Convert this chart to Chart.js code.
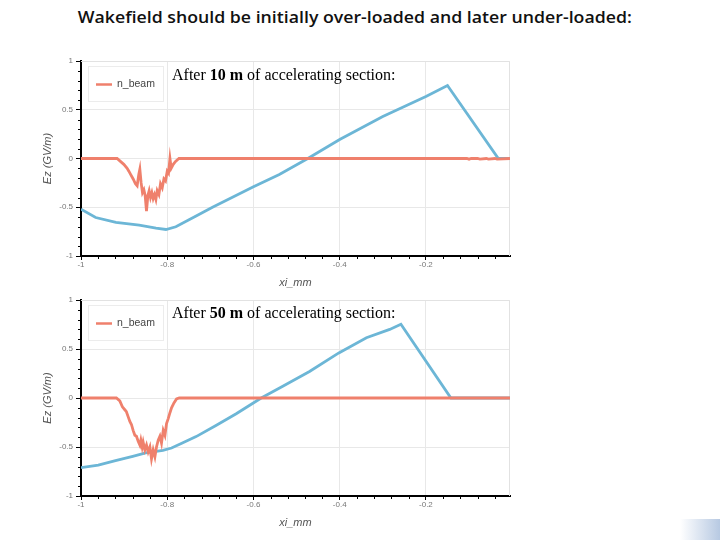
<!DOCTYPE html>
<html><head><meta charset="utf-8">
<script src="https://cdn.jsdelivr.net/npm/chart.js@4.4.0/dist/chart.umd.min.js"></script>
<style>
html,body{margin:0;padding:0;background:#fff;width:720px;height:540px;overflow:hidden;position:relative;font-family:"Liberation Sans",Arial,sans-serif}
canvas{position:absolute}
#c1{left:0;top:40px}
#c2{left:0;top:280px}
#title{position:absolute;top:5px;left:0;width:710px;text-align:center;white-space:nowrap;font-family:"Open Sans",sans-serif;font-weight:600;font-size:17px;color:#111}
#title span{display:inline-block;transform-origin:50% 50%}
.note{position:absolute;left:172px;font-family:"Liberation Serif","Times New Roman",serif;font-size:16px;line-height:16px;white-space:nowrap;color:#000}
#deco{position:absolute;left:680px;top:519px;width:40px;height:21px;background:linear-gradient(to right,#fff,#b7c9e2)}
</style></head>
<body>
<div id="title"><span id="tspan">Wakefield should be initially over-loaded and later under-loaded:</span></div>
<canvas id="c1" width="530" height="250"></canvas>
<canvas id="c2" width="530" height="250"></canvas>
<div class="note" style="top:67px">After <b>10 m</b> of accelerating section:</div>
<div class="note" style="top:305px">After <b>50 m</b> of accelerating section:</div>
<div id="deco"></div>
<script>
// ---- data ----
const xTicks = [-1, -0.8, -0.6, -0.4, -0.2];
const yTicks = [-1, -0.5, 0, 0.5, 1];
const xMinorTicks = [-0.96,-0.92,-0.88,-0.84,-0.76,-0.72,-0.68,-0.64,-0.56,-0.52,-0.48,-0.44,-0.36,-0.32,-0.28,-0.24,-0.16,-0.12,-0.08,-0.04];
const yMinorTicks = [-0.9,-0.8,-0.7,-0.6,-0.4,-0.3,-0.2,-0.1,0.1,0.2,0.3,0.4,0.6,0.7,0.8,0.9];

const beam10X = [-1,-0.9163,-0.9086,-0.9007,-0.893,-0.889,-0.8853,-0.879,-0.8737,-0.8698,-0.8658,-0.8635,-0.8605,-0.8574,-0.8542,-0.8512,-0.8481,-0.8449,-0.8419,-0.8388,-0.8356,-0.8326,-0.8295,-0.8263,-0.8233,-0.8193,-0.8156,-0.8116,-0.8077,-0.804,-0.8,-0.797,-0.7937,-0.7907,-0.786,-0.7807,-0.7728,-0.105,-0.1,-0.095,-0.08,-0.075,-0.06,-0.055,-0.04,-0.035,-0.005];
const beam10Y = [0,0,-0.03,-0.06,-0.10,-0.13,-0.16,-0.21,-0.26,-0.28,-0.16,-0.11,-0.25,-0.35,-0.32,-0.38,-0.54,-0.38,-0.33,-0.40,-0.35,-0.41,-0.37,-0.42,-0.33,-0.37,-0.26,-0.30,-0.21,-0.23,-0.13,-0.15,0,-0.10,-0.06,-0.03,0,0,-0.007,0,0,-0.006,0,-0.007,0,-0.006,0];
const ez10X = [-1,-0.966,-0.919,-0.865,-0.826,-0.803,-0.78,-0.733,-0.695,-0.6,-0.54,-0.474,-0.4,-0.3,-0.2,-0.15,-0.032,-0.005];
const ez10Y = [-0.52,-0.605,-0.656,-0.684,-0.714,-0.728,-0.70,-0.59,-0.50,-0.29,-0.163,0,0.194,0.43,0.636,0.748,0,0];

const beam50X = [-1,-0.9179,-0.91,-0.904,-0.8984,-0.8947,-0.8907,-0.8867,-0.883,-0.8791,-0.8751,-0.8714,-0.8674,-0.8635,-0.8612,-0.8581,-0.8558,-0.8519,-0.8481,-0.8442,-0.8402,-0.8365,-0.8326,-0.8286,-0.8249,-0.8209,-0.817,-0.8133,-0.8093,-0.8053,-0.8016,-0.7977,-0.7937,-0.79,-0.7844,-0.7784,-0.7721,-0.005];
const beam50Y = [0,0,-0.03,-0.09,-0.12,-0.14,-0.19,-0.24,-0.27,-0.33,-0.38,-0.39,-0.44,-0.48,-0.43,-0.50,-0.45,-0.53,-0.48,-0.55,-0.50,-0.62,-0.53,-0.60,-0.50,-0.43,-0.39,-0.46,-0.33,-0.38,-0.26,-0.21,-0.15,-0.10,-0.05,-0.01,0,0];
const ez50X = [-1,-0.96,-0.92,-0.88,-0.85,-0.81,-0.79,-0.765,-0.733,-0.687,-0.64,-0.582,-0.532,-0.47,-0.402,-0.338,-0.284,-0.258,-0.142,-0.005];
const ez50Y = [-0.71,-0.685,-0.64,-0.595,-0.56,-0.535,-0.51,-0.46,-0.394,-0.28,-0.16,0,0.12,0.27,0.46,0.615,0.70,0.752,0,0];

const seriesNames = ['n_beam', 'Ez'];
const RED = '#ef806c', BLUE = '#6cb6d6';

// ---- title fit ----
(function(){
  const s = document.getElementById('tspan');
  const w = s.getBoundingClientRect().width;
  s.style.transform = 'scaleX(' + (554 / w) + ')';
})();

const toPts = (xs, ys) => xs.map((x, i) => ({x: x, y: ys[i]}));

const decor = {
  id: 'decor',
  beforeDatasetsDraw(chart) {
    const {ctx, chartArea: a} = chart;
    ctx.save();
    ctx.strokeStyle = '#e2e2e2'; ctx.lineWidth = 1;
    ctx.beginPath();
    ctx.moveTo(a.left, a.top + 0.5); ctx.lineTo(a.right - 0.5, a.top + 0.5); ctx.lineTo(a.right - 0.5, a.bottom);
    ctx.stroke();
    ctx.restore();
  },
  afterDatasetsDraw(chart) {
    const {ctx, chartArea: a} = chart;
    const ds = chart.data.datasets[0];
    ctx.save();
    ctx.fillStyle = '#fff'; ctx.strokeStyle = '#ececec'; ctx.lineWidth = 1;
    ctx.fillRect(a.left + 7, a.top + 5, 75, 35);
    ctx.strokeRect(a.left + 7.5, a.top + 5.5, 75, 35);
    ctx.strokeStyle = ds.borderColor; ctx.lineWidth = 2.5;
    ctx.beginPath(); ctx.moveTo(a.left + 15, a.top + 23.5); ctx.lineTo(a.left + 31, a.top + 23.5); ctx.stroke();
    ctx.fillStyle = '#444'; ctx.font = '10.5px "Liberation Sans", Arial, sans-serif';
    ctx.textBaseline = 'middle'; ctx.textAlign = 'left';
    ctx.fillText(ds.label, a.left + 36, a.top + 23.5);
    ctx.restore();
  },
  afterDraw(chart) {
    const {ctx, chartArea: a, scales: {x, y}} = chart;
    ctx.save();
    ctx.strokeStyle = '#000'; ctx.lineWidth = 1;
    ctx.beginPath();
    yMinorTicks.forEach(v => { const py = Math.round(y.getPixelForValue(v)) + 0.5; ctx.moveTo(a.left - 3, py); ctx.lineTo(a.left, py); });
    xMinorTicks.forEach(v => { const px = Math.round(x.getPixelForValue(v)) + 0.5; ctx.moveTo(px, a.bottom); ctx.lineTo(px, a.bottom + 3); });
    ctx.stroke();
    ctx.fillStyle = '#555';
    ctx.font = 'italic 11px "Liberation Sans", Arial, sans-serif';
    ctx.textAlign = 'center'; ctx.textBaseline = 'middle';
    ctx.fillText('xi_mm', (a.left + a.right) / 2, a.bottom + 27);
    ctx.translate(a.left - 33, (a.top + a.bottom) / 2);
    ctx.rotate(-Math.PI / 2);
    ctx.fillText('Ez (GV/m)', 0, 0);
    ctx.restore();
  }
};

function makeChart(id, bx, by, ex, ey, padTop) {
  return new Chart(document.getElementById(id), {
    type: 'line',
    data: {
      datasets: [
        {label: seriesNames[0], data: toPts(bx, by), borderColor: RED, borderWidth: 2.8, pointRadius: 0, tension: 0, fill: false},
        {label: seriesNames[1], data: toPts(ex, ey), borderColor: BLUE, borderWidth: 2.8, pointRadius: 0, tension: 0, fill: false}
      ]
    },
    options: {
      responsive: false, animation: false, devicePixelRatio: 1,
      layout: {padding: {left: 0, right: 20, top: padTop, bottom: 0}},
      plugins: {legend: {display: false}, tooltip: {enabled: false}, title: {display: false}},
      scales: {
        x: {
          type: 'linear', min: -1, max: -0.005,
          afterBuildTicks(s) { s.ticks = xTicks.map(v => ({value: v})); },
          afterFit(s) { s.height = 34; },
          grid: {color: '#e8e8e8', lineWidth: 1, tickColor: '#000', tickLength: 4, drawTicks: true},
          border: {color: '#000', width: 2},
          ticks: {color: '#777', font: {size: 8, family: '"Liberation Sans", Arial, sans-serif'}, padding: 0, maxRotation: 0, autoSkip: false, callback: v => String(v)}
        },
        y: {
          type: 'linear', min: -1, max: 1,
          afterBuildTicks(s) { s.ticks = yTicks.map(v => ({value: v})); },
          afterFit(s) { s.width = 81; },
          grid: {color: '#e8e8e8', lineWidth: 1, tickColor: '#000', tickLength: 5, drawTicks: true},
          border: {color: '#000', width: 2},
          ticks: {color: '#777', font: {size: 8, family: '"Liberation Sans", Arial, sans-serif'}, padding: 3, autoSkip: false, callback: v => String(v)}
        }
      }
    },
    plugins: [decor]
  });
}

makeChart('c1', beam10X, beam10Y, ez10X, ez10Y, 21);
makeChart('c2', beam50X, beam50Y, ez50X, ez50Y, 20);
</script>
</body></html>
